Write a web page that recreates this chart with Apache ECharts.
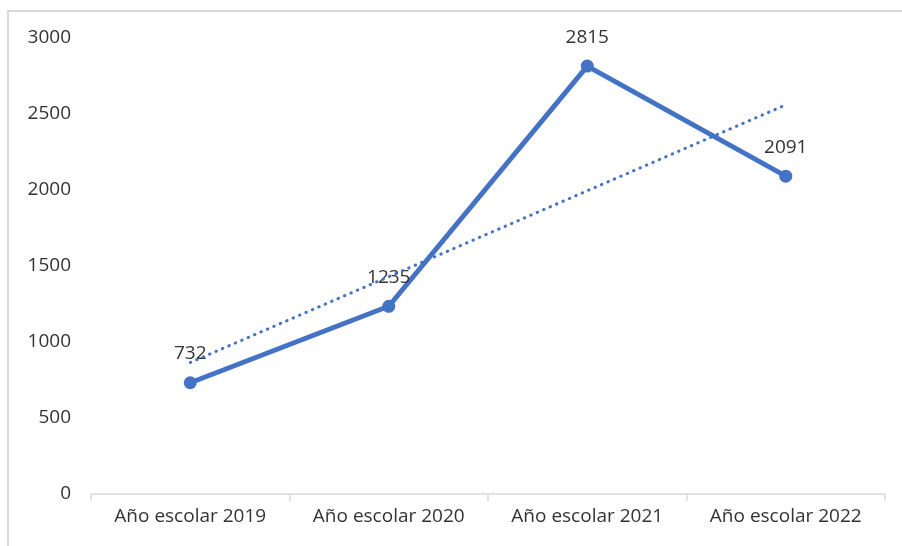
<!DOCTYPE html>
<html><head><meta charset="utf-8">
<script src="https://cdn.jsdelivr.net/npm/echarts@6/dist/echarts.min.js"></script>
<style>html,body{margin:0;padding:0;background:#fff}#c{width:902px;height:546px}</style>
</head><body><div id="c"></div>
<script>
const categories = ['Año escolar 2019','Año escolar 2020','Año escolar 2021','Año escolar 2022'];
const values = [732, 1235, 2815, 2091];
const trendValues = [865, 1430, 1995, 2560];
const yTicks = [0, 500, 1000, 1500, 2000, 2500, 3000];

const chart = echarts.init(document.getElementById('c'), null, {renderer:'canvas'});
const font = '"Open Sans", "Liberation Sans", sans-serif';
chart.setOption({
  animation: false,
  backgroundColor: '#fff',
  graphic: [{type:'rect', shape:{x:8, y:11, width:1000, height:1000}, style:{fill:'none', stroke:'#d9d9d9', lineWidth:2}, z:-1}],
  grid: {left:91, right:17, top:38, bottom:52},
  xAxis: {
    type:'category', data: categories, boundaryGap:true,
    axisLine:{lineStyle:{color:'#d9d9d9', width:1.5}},
    axisTick:{show:true, length:7, lineStyle:{color:'#d9d9d9', width:1.5}},
    axisLabel:{color:'#333333', fontFamily:font, fontSize:19, margin:13}
  },
  yAxis: {
    type:'value', min:yTicks[0], max:yTicks[yTicks.length-1], interval:500,
    axisLine:{show:false}, axisTick:{show:false}, splitLine:{show:false},
    axisLabel:{color:'#333333', fontFamily:font, fontSize:19, margin:20, formatter: v => String(v)}
  },
  series: [
    {
      type:'line', data: values, symbol:'circle', symbolSize:13,
      lineStyle:{color:'#4472C4', width:5}, itemStyle:{color:'#4472C4'},
      label:{show:true, position:'top', distance:13, color:'#333333', fontFamily:font, fontSize:19},
      z:2
    },
    {
      type:'line', data: trendValues, symbol:'none',
      lineStyle:{color:'#4472C4', width:3, type:[0.5,6.5], cap:'round'},
      z:3, silent:true
    }
  ]
});
</script></body></html>
